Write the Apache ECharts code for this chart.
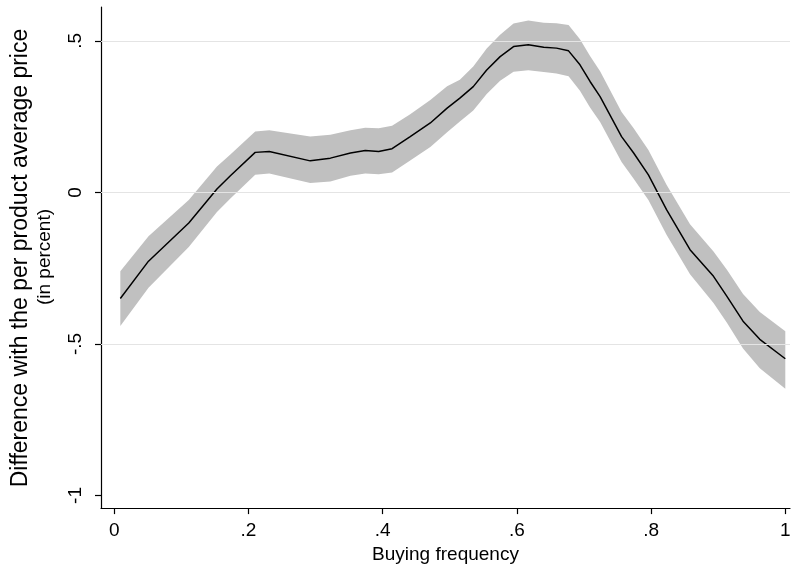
<!DOCTYPE html>
<html><head><meta charset="utf-8">
<script src="https://cdn.jsdelivr.net/npm/echarts@6/dist/echarts.min.js"></script>
<style>html,body{margin:0;padding:0;background:#fff}#c{width:794px;height:569px}</style>
</head><body><div id="c"></div>
<script>
const buyingFrequency = [0.009,0.051,0.111,0.153,0.173,0.210,0.231,0.292,0.322,0.352,0.374,0.394,0.414,0.441,0.471,0.496,0.515,0.535,0.555,0.575,0.595,0.617,0.640,0.659,0.677,0.694,0.709,0.724,0.756,0.774,0.796,0.823,0.858,0.893,0.913,0.937,0.962,1.0];
const meanDiff = [-0.350,-0.227,-0.101,0.011,0.055,0.132,0.135,0.104,0.113,0.130,0.138,0.135,0.144,0.184,0.229,0.278,0.311,0.349,0.404,0.448,0.481,0.487,0.479,0.476,0.467,0.421,0.366,0.316,0.184,0.130,0.058,-0.057,-0.189,-0.277,-0.343,-0.425,-0.485,-0.549];
const ciLower = [-0.441,-0.315,-0.180,-0.065,-0.020,0.058,0.062,0.031,0.036,0.055,0.062,0.060,0.066,0.105,0.150,0.198,0.234,0.270,0.325,0.368,0.398,0.403,0.397,0.392,0.383,0.335,0.280,0.232,0.100,0.045,-0.025,-0.140,-0.270,-0.365,-0.430,-0.515,-0.580,-0.648];
const ciUpper = [-0.260,-0.145,-0.025,0.085,0.125,0.201,0.205,0.184,0.190,0.205,0.213,0.212,0.220,0.258,0.305,0.350,0.372,0.415,0.475,0.520,0.557,0.567,0.560,0.558,0.552,0.505,0.450,0.400,0.265,0.212,0.140,0.025,-0.105,-0.195,-0.255,-0.335,-0.395,-0.458];
const xTicks = [0,0.2,0.4,0.6,0.8,1];
const yTicks = [-1,-0.5,0,0.5];
const yGridLines = [-0.5,0,0.5];
const xTitle = 'Buying frequency';
const yTitle = 'Difference with the per product average price';
const ySubTitle = '(in percent)';

const fmt = v => String(v).replace('0.', '.');
const FONT = 'Liberation Sans, Arial, sans-serif';
const chart = echarts.init(document.getElementById('c'), null, {renderer:'canvas'});
chart.setOption({
  animation:false,
  backgroundColor:'#fff',
  grid:{left:101, right:4, top:7, bottom:60, containLabel:false},
  xAxis:{
    type:'value', min:-0.0198, max:1.007,
    axisLine:{show:true, onZero:false, lineStyle:{color:'#000', width:1.2}},
    axisTick:{show:true, inside:false, length:6, customValues:xTicks, lineStyle:{color:'#000', width:1.2}},
    axisLabel:{customValues:xTicks, formatter:fmt, color:'#000', fontSize:19, fontFamily:FONT, margin:13},
    splitLine:{show:false},
    name:xTitle, nameLocation:'middle', nameGap:29,
    nameTextStyle:{color:'#000', fontSize:19, fontFamily:FONT}
  },
  yAxis:{
    type:'value', min:-1.0418, max:0.6117,
    axisLine:{show:true, onZero:false, lineStyle:{color:'#000', width:1.2}},
    axisTick:{show:true, inside:false, length:6, customValues:yTicks, lineStyle:{color:'#000', width:1.2}},
    axisLabel:{customValues:yTicks, formatter:fmt, rotate:90, color:'#000', fontSize:19, fontFamily:FONT, margin:16},
    splitLine:{show:false}
  },
  graphic:[
    {type:'text', x:21, y:258, rotation:Math.PI/2, style:{text:yTitle, fill:'#000', font:'23px '+FONT, textAlign:'center', textVerticalAlign:'middle'}},
    {type:'text', x:45, y:257, rotation:Math.PI/2, style:{text:ySubTitle, fill:'#000', font:'19px '+FONT, textAlign:'center', textVerticalAlign:'middle'}}
  ],
  series:[
    {type:'line', data:[], z:0, silent:true,
     markLine:{silent:true, symbol:'none', label:{show:false}, animation:false,
       lineStyle:{color:'#e4e4e4', type:'solid', width:1.2},
       data: yGridLines.map(v=>({yAxis:v}))}},
    {type:'custom', z:1, silent:true,
     data: buyingFrequency.map((x,i)=>[x, ciLower[i], ciUpper[i]]),
     encode:{x:0, y:[1,2]},
     renderItem:(params, api)=>{
       if (params.dataIndex !== 0) return;
       const pts = [];
       for (let i=0;i<buyingFrequency.length;i++) pts.push(api.coord([buyingFrequency[i], ciUpper[i]]));
       for (let i=buyingFrequency.length-1;i>=0;i--) pts.push(api.coord([buyingFrequency[i], ciLower[i]]));
       return {type:'polygon', shape:{points:pts}, style:{fill:'#c0c0c0'}};
     }},
    {type:'line', z:2, silent:true, symbol:'none',
     data: buyingFrequency.map((x,i)=>[x, meanDiff[i]]),
     lineStyle:{color:'#000', width:1.5}}
  ]
});
</script></body></html>
